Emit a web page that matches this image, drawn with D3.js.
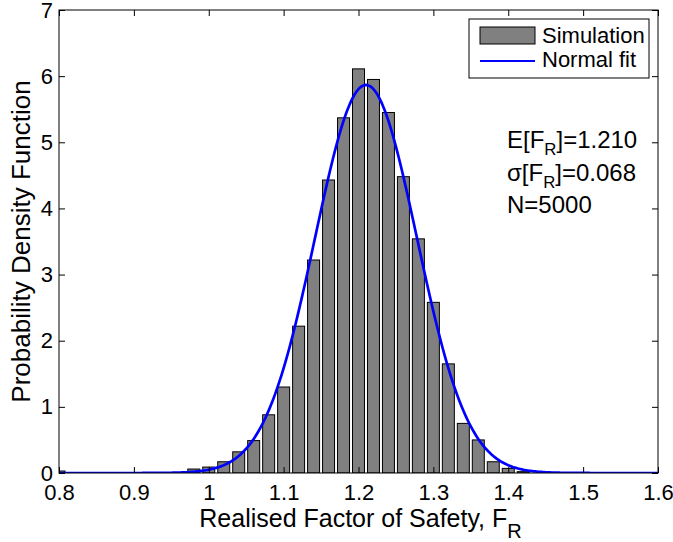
<!DOCTYPE html>
<html>
<head>
<meta charset="utf-8">
<script src="https://cdn.jsdelivr.net/npm/d3@7"></script>
<style>
  html, body { margin: 0; padding: 0; background: #fff; }
  svg { display: block; font-family: "Liberation Sans", Arial, sans-serif; }
</style>
</head>
<body>
<svg id="chart" width="673" height="542"></svg>
<script>
// ---- data ----
const binCenters = [0.80, 0.82, 0.84, 0.86, 0.88, 0.90, 0.92, 0.94, 0.96, 0.98,
                    1.00, 1.02, 1.04, 1.06, 1.08, 1.10, 1.12, 1.14, 1.16, 1.18,
                    1.20, 1.22, 1.24, 1.26, 1.28, 1.30, 1.32, 1.34, 1.36, 1.38,
                    1.40, 1.42, 1.44, 1.46, 1.48, 1.50, 1.52, 1.54, 1.56, 1.58, 1.60];
const pdfValues = [0.03, 0, 0, 0, 0, 0, 0, 0, 0, 0.06,
                   0.09, 0.17, 0.32, 0.49, 0.88, 1.30, 2.22, 3.22, 4.43, 5.37,
                   6.11, 5.95, 5.45, 4.48, 3.54, 2.58, 1.65, 0.75, 0.50, 0.17,
                   0.07, 0.02, 0, 0, 0, 0, 0, 0, 0, 0, 0];
const fitMean = 1.210;
const fitSigma = 0.068;
const sampleCount = 5000;
const xTickValues = [0.8, 0.9, 1.0, 1.1, 1.2, 1.3, 1.4, 1.5, 1.6];
const xTickLabels = ["0.8", "0.9", "1", "1.1", "1.2", "1.3", "1.4", "1.5", "1.6"];
const yTickValues = [0, 1, 2, 3, 4, 5, 6, 7];
const yTickLabels = ["0", "1", "2", "3", "4", "5", "6", "7"];
const legendLabels = ["Simulation", "Normal fit"];

// ---- layout ----
const svg = d3.select("#chart");
const L = 59, R = 658, T = 10, B = 473;
const x = d3.scaleLinear().domain([0.8, 1.6]).range([L, R]);
const y = d3.scaleLinear().domain([0, 7]).range([B, T]);
const tickFont = 22, labelFont = 25, annFont = 24, legFont = 22;

svg.append("defs").append("clipPath").attr("id", "plotclip")
  .append("rect").attr("x", L).attr("y", T).attr("width", R - L).attr("height", B - T);

const plot = svg.append("g").attr("clip-path", "url(#plotclip)");

// bars
const binW = x(0.82) - x(0.80);
const barW = binW * 0.8;
plot.selectAll("rect.bar")
  .data(binCenters.map((c, i) => ({c, v: pdfValues[i]})).filter(d => d.v > 0))
  .enter().append("rect")
  .attr("class", "bar")
  .attr("x", d => x(d.c) - barW / 2)
  .attr("width", barW)
  .attr("y", d => y(d.v))
  .attr("height", d => y(0) - y(d.v))
  .attr("fill", "#808080")
  .attr("stroke", "#000")
  .attr("stroke-width", 1);

// normal fit curve
const curvePts = d3.range(0, 401).map(i => {
  const xv = 0.8 + i * 0.002;
  const z = (xv - fitMean) / fitSigma;
  return [xv, Math.exp(-0.5 * z * z) / (fitSigma * Math.sqrt(2 * Math.PI))];
});
plot.append("path")
  .datum(curvePts)
  .attr("fill", "none")
  .attr("stroke", "#0000ff")
  .attr("stroke-width", 2.7)
  .attr("d", d3.line().x(d => x(d[0])).y(d => y(d[1])));

// axes
const xfmt = d => xTickLabels[xTickValues.indexOf(d)];
const yfmt = d => yTickLabels[yTickValues.indexOf(d)];

const gx = svg.append("g").attr("transform", `translate(0,${B})`)
  .call(d3.axisBottom(x).tickValues(xTickValues).tickFormat(xfmt).tickSize(-6).tickPadding(11));
const gy = svg.append("g").attr("transform", `translate(${L},0)`)
  .call(d3.axisLeft(y).tickValues(yTickValues).tickFormat(yfmt).tickSize(-6).tickPadding(6));
const gxt = svg.append("g").attr("transform", `translate(0,${T})`)
  .call(d3.axisTop(x).tickValues(xTickValues).tickFormat("").tickSize(-6));
const gyr = svg.append("g").attr("transform", `translate(${R},0)`)
  .call(d3.axisRight(y).tickValues(yTickValues).tickFormat("").tickSize(-6));
[gx, gy, gxt, gyr].forEach(g => {
  g.select(".domain").remove();
  g.selectAll("text").attr("font-size", tickFont).attr("fill", "#000")
    .attr("font-family", "'Liberation Sans', Arial, sans-serif");
  g.selectAll("line").attr("stroke", "#000");
});

// frame
svg.append("rect").attr("x", L).attr("y", T).attr("width", R - L).attr("height", B - T)
  .attr("fill", "none").attr("stroke", "#000").attr("stroke-width", 1);

// axis labels
const xl = svg.append("text").attr("x", (L + R) / 2 + 2).attr("y", 527)
  .attr("text-anchor", "middle").attr("font-size", labelFont);
xl.append("tspan").text("Realised Factor of Safety, F");
xl.append("tspan").attr("dy", 11).attr("font-size", labelFont * 0.8).text("R");

svg.append("text")
  .attr("transform", `translate(30,${(T + B) / 2}) rotate(-90)`)
  .attr("text-anchor", "middle").attr("font-size", 26)
  .text("Probability Density Function");

// annotation
const ann = svg.append("g").attr("font-size", annFont);
const a1 = ann.append("text").attr("x", 507).attr("y", 148);
a1.append("tspan").text("E[F");
a1.append("tspan").attr("dy", 7).attr("font-size", annFont * 0.7).text("R");
a1.append("tspan").attr("dy", -7).text("]=" + fitMean.toFixed(3));
const a2 = ann.append("text").attr("x", 507).attr("y", 181);
a2.append("tspan").text("\u03c3[F");
a2.append("tspan").attr("dy", 7).attr("font-size", annFont * 0.7).text("R");
a2.append("tspan").attr("dy", -7).text("]=" + fitSigma.toFixed(3));
ann.append("text").attr("x", 507).attr("y", 213).text("N=" + sampleCount);

// legend
const lg = svg.append("g");
lg.append("rect").attr("x", 469).attr("y", 19).attr("width", 180).attr("height", 59)
  .attr("fill", "#fff").attr("stroke", "#000").attr("stroke-width", 1);
lg.append("rect").attr("x", 480).attr("y", 27).attr("width", 55).attr("height", 17)
  .attr("fill", "#808080").attr("stroke", "#000").attr("stroke-width", 1);
lg.append("line").attr("x1", 480).attr("x2", 535).attr("y1", 61).attr("y2", 61)
  .attr("stroke", "#0000ff").attr("stroke-width", 2);
lg.append("text").attr("x", 542).attr("y", 43).attr("font-size", legFont).text(legendLabels[0]);
lg.append("text").attr("x", 542).attr("y", 67).attr("font-size", legFont).text(legendLabels[1]);
</script>
</body>
</html>
